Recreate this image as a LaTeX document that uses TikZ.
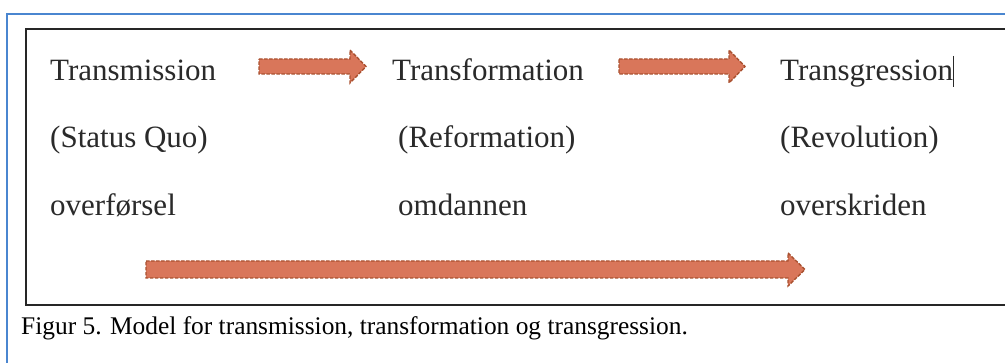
\documentclass[tikz,border=0pt]{standalone}
\usepackage{fontspec}
\setmainfont{Liberation Serif}
\newfontfamily\capfont{Liberation Serif}
\definecolor{framebl}{HTML}{4A86D0}
\definecolor{arrfill}{HTML}{D9765A}
\definecolor{arrline}{HTML}{A9502F}
\definecolor{txt}{HTML}{2A2A2A}
\tikzset{
  lbl/.style={anchor=base west, inner sep=0pt, font=\fontsize{31}{36}\selectfont, text=txt},
  fatarrow/.style={fill=arrfill, draw=arrline, line width=1.4pt, dash pattern=on 3.5pt off 1.5pt, line join=miter},
}
\begin{document}
\begin{tikzpicture}[x=1pt,y=-1pt]
\useasboundingbox (0,0) rectangle (1005,363);
\fill[white] (0,0) rectangle (1005,363);
% outer blue frame
\draw[framebl, line width=2.2pt] (7,380) -- (7,14) -- (1010,14);
% black box
\draw[black!85, line width=1.4pt] (1010,29) -- (26,29) -- (26,305) -- (1010,305);
% text
\node[lbl] (t1) at (50,81) {Transmission};
\node[lbl] (t2) at (392,81) {Transformation};
\node[lbl] (t3) at (780,81) {Transgression};
\node[lbl] (s1) at (50,148) {(Status Quo)};
\node[lbl] (s2) at (398,148) {(Reformation)};
\node[lbl] (s3) at (780,148) {(Revolution)};
\node[lbl] (d1) at (50,216) {overførsel};
\node[lbl] (d2) at (398,216) {omdannen};
\node[lbl] (d3) at (780,216) {overskriden};
% cursor
\draw[txt, line width=1pt] (t3.east |- 0,56) -- (t3.east |- 0,87);
% arrows
\draw[fatarrow] (259,59) -- (350,59) -- (350,50) -- (366,66.5) -- (350,83) -- (350,74) -- (259,74) -- cycle;
\draw[fatarrow] (619,59) -- (729,59) -- (729,50) -- (745,66.5) -- (729,83) -- (729,74) -- (619,74) -- cycle;
\draw[fatarrow] (146,261) -- (788,261) -- (788,253) -- (805,269.5) -- (788,286) -- (788,278) -- (146,278) -- cycle;
% caption
\node[anchor=base west, inner sep=0pt, text=black] (cap) at (21,335) {\capfont\fontsize{25.4}{28}\selectfont Figur 5. Model for transmission, transformation og transgression.};
\end{tikzpicture}
\end{document}
